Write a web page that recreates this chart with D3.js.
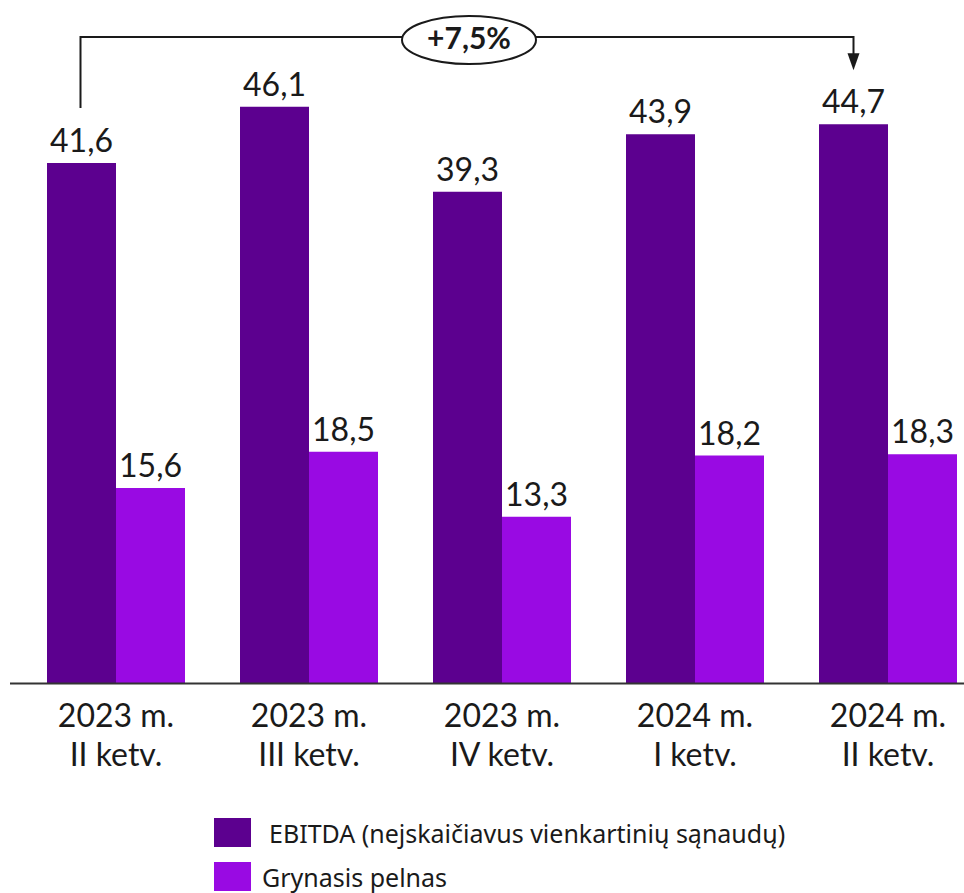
<!DOCTYPE html>
<html>
<head>
<meta charset="utf-8">
<script src="https://cdn.jsdelivr.net/npm/d3@7"></script>
<style>
  body { margin: 0; background: #fff; }
  svg { display: block; }
</style>
</head>
<body>
<svg id="chart" width="964" height="893"></svg>
<script>
// duomenys
var quarters = [["2023 m.", "II ketv."], ["2023 m.", "III ketv."], ["2023 m.", "IV ketv."], ["2024 m.", "I ketv."], ["2024 m.", "II ketv."]];
var seriesNames = ["EBITDA (nejskaičiavus vienkartinių sąnaudų)", "Grynasis pelnas"];
var ebitda = [41.6, 46.1, 39.3, 43.9, 44.7];
var netProfit = [15.6, 18.5, 13.3, 18.2, 18.3];
var colors = ["#5c008f", "#990ae3"];

var svg = d3.select("#chart");
var baseY = 683;

var x0 = d3.scaleBand()
    .domain(d3.range(quarters.length))
    .range([47, 957])
    .paddingInner(0.285);

var x1 = d3.scaleBand()
    .domain([0, 1])
    .range([0, x0.bandwidth()]);

var y = d3.scaleLinear()
    .domain([0, 50])
    .range([baseY, 58]);

var font = "Lato, 'Noto Sans', sans-serif";
var fmt = function (v) { return v.toFixed(1).replace(".", ","); };

var data = quarters.map(function (q, i) {
    return { i: i, values: [ebitda[i], netProfit[i]] };
});

var groups = svg.selectAll(".grp")
    .data(data)
    .enter()
    .append("g")
    .attr("class", "grp")
    .attr("transform", function (d) { return "translate(" + x0(d.i) + ",0)"; });

groups.selectAll("rect")
    .data(function (d) { return d.values.map(function (v, k) { return { k: k, v: v }; }); })
    .enter()
    .append("rect")
    .attr("x", function (d) { return x1(d.k); })
    .attr("y", function (d) { return y(d.v); })
    .attr("width", x1.bandwidth())
    .attr("height", function (d) { return baseY - y(d.v); })
    .attr("fill", function (d) { return colors[d.k]; });

groups.selectAll("text.val")
    .data(function (d) { return d.values.map(function (v, k) { return { k: k, v: v }; }); })
    .enter()
    .append("text")
    .attr("class", "val")
    .attr("x", function (d) { return x1(d.k) + x1.bandwidth() / 2; })
    .attr("y", function (d) { return y(d.v) - 11; })
    .attr("text-anchor", "middle")
    .attr("font-family", font)
    .attr("font-size", 32)
    .attr("fill", "#1a1a1a")
    .text(function (d) { return fmt(d.v); });

// x asis
svg.append("line")
    .attr("x1", 10).attr("x2", 964)
    .attr("y1", baseY + 0.5).attr("y2", baseY + 0.5)
    .attr("stroke", "#333").attr("stroke-width", 2);

var lbl = svg.selectAll(".xl")
    .data(quarters)
    .enter()
    .append("text")
    .attr("class", "xl")
    .attr("text-anchor", "middle")
    .attr("font-family", font)
    .attr("font-size", 32)
    .attr("fill", "#1a1a1a")
    .attr("transform", function (d, i) { return "translate(" + (x0(i) + x0.bandwidth() / 2) + ",0)"; });

lbl.append("tspan").attr("x", 0).attr("y", 727).text(function (d) { return d[0]; });
lbl.append("tspan").attr("x", 0).attr("y", 766).text(function (d) { return d[1]; });

// pokycio rodykle
var last = ebitda.length - 1;
var ax1 = x0(0) + x1(0) + x1.bandwidth() / 2 - 1;
var ax2 = x0(last) + x1(0) + x1.bandwidth() / 2;
var topY = 37;
var change = (ebitda[last] / ebitda[0] - 1) * 100;

svg.append("path")
    .attr("d", "M" + ax1 + "," + (y(ebitda[0]) - 55) + "V" + topY + "H" + ax2 + "V" + (y(ebitda[last]) - 70))
    .attr("fill", "none")
    .attr("stroke", "#1a1a1a")
    .attr("stroke-width", 2);

var tipY = y(ebitda[last]) - 54;
svg.append("path")
    .attr("d", "M" + (ax2 - 6) + "," + (tipY - 17) + "L" + (ax2 + 6) + "," + (tipY - 17) + "L" + ax2 + "," + tipY + "Z")
    .attr("fill", "#1a1a1a");

var ex = 469;
svg.append("ellipse")
    .attr("cx", ex).attr("cy", 40)
    .attr("rx", 67).attr("ry", 24)
    .attr("fill", "#fff")
    .attr("stroke", "#1a1a1a")
    .attr("stroke-width", 2);

svg.append("text")
    .attr("x", ex).attr("y", 49)
    .attr("text-anchor", "middle")
    .attr("font-family", font)
    .attr("font-weight", "bold")
    .attr("font-size", 30)
    .attr("fill", "#1a1a1a")
    .text("+" + fmt(change) + "%");

// legenda
var leg = svg.selectAll(".leg")
    .data(seriesNames)
    .enter()
    .append("g")
    .attr("class", "leg")
    .attr("transform", function (d, i) { return "translate(214," + (818 + i * 44) + ")"; });

leg.append("rect")
    .attr("width", 37).attr("height", 29)
    .attr("fill", function (d, i) { return colors[i]; });

leg.append("text")
    .attr("x", function (d, i) { return i === 0 ? 55 : 48; })
    .attr("y", 25)
    .attr("font-family", "'Noto Sans', 'Open Sans', sans-serif")
    .attr("font-size", 25)
    .attr("fill", "#1a1a1a")
    .text(function (d) { return d; });
</script>
</body>
</html>
